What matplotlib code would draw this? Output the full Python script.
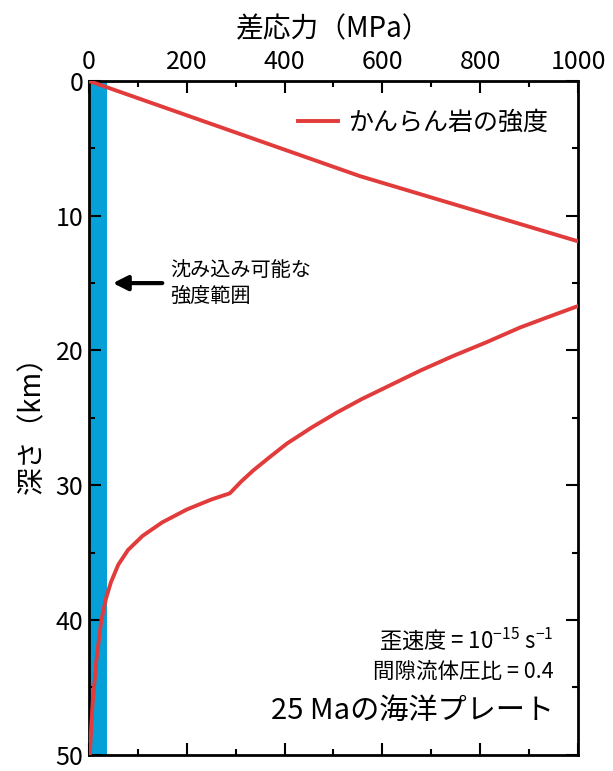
import matplotlib
matplotlib.use("Agg")
import matplotlib.pyplot as plt
from matplotlib.ticker import MultipleLocator

plt.rcParams['font.family'] = ['Noto Sans CJK JP', 'DejaVu Sans']
plt.rcParams['mathtext.fontset'] = 'custom'
plt.rcParams['mathtext.rm'] = 'Noto Sans CJK JP'
plt.rcParams['mathtext.it'] = 'Noto Sans CJK JP'

# 脆性領域（差応力 MPa, 深さ km）
brittle_stress = [0, 554, 1000]
brittle_depth = [0, 7.06, 11.9]

# 延性領域
ductile_stress = [1000, 940, 881, 812, 745, 677, 609, 558, 507, 456, 405, 370, 336, 312, 288,
                  250, 200, 150, 110, 80, 60, 45, 35, 25, 15, 12, 8, 5, 2]
ductile_depth = [16.7, 17.5, 18.3, 19.4, 20.4, 21.5, 22.7, 23.6, 24.6, 25.7, 26.9, 27.9, 28.9, 29.7, 30.6,
                 31.06, 31.8, 32.75, 33.75, 34.8, 35.9, 37.2, 38.4, 40.1, 43.1, 44.4, 46.0, 47.8, 50]

band_max = 38  # 沈み込み可能な強度範囲 (MPa)
arrow_depth = 15

red = '#E23B3B'
blue = '#06A0D8'

fig = plt.figure(figsize=(6.13, 7.71), dpi=100)
ax = fig.add_axes([0.145, 0.021, 0.798, 0.874])

ax.axvspan(0, band_max, color=blue, lw=0, zorder=1)
ax.plot(brittle_stress, brittle_depth, color=red, lw=2.8, label='かんらん岩の強度', zorder=3,
        solid_joinstyle='round')
ax.plot(ductile_stress, ductile_depth, color=red, lw=2.8, zorder=3, solid_joinstyle='round')

ax.annotate('', xy=(49, arrow_depth), xytext=(150, arrow_depth),
            arrowprops=dict(arrowstyle='-|>', lw=3, color='black', mutation_scale=22,
                            shrinkA=0, shrinkB=0))
ax.text(166, arrow_depth, '沈み込み可能な\n強度範囲', fontsize=14.5, va='center', ha='left',
        linespacing=1.3)

ax.text(0.95, 0.172, '歪速度 = 10$^{-15}$ s$^{-1}$', transform=ax.transAxes,
        fontsize=16, ha='right', va='center')
ax.text(0.95, 0.123, '間隙流体圧比 = 0.4', transform=ax.transAxes,
        fontsize=15.5, ha='right', va='center')
ax.text(0.95, 0.065, '25 Maの海洋プレート', transform=ax.transAxes,
        fontsize=21, ha='right', va='center')

ax.set_xlim(0, 1000)
ax.set_ylim(50, 0)
ax.xaxis.set_major_locator(MultipleLocator(200))
ax.xaxis.set_minor_locator(MultipleLocator(100))
ax.yaxis.set_major_locator(MultipleLocator(10))
ax.yaxis.set_minor_locator(MultipleLocator(5))

ax.xaxis.set_label_position('top')
ax.set_xlabel('差応力（MPa）', fontsize=20, labelpad=9)
ax.set_ylabel('深さ（km）', fontsize=20, labelpad=6)

ax.tick_params(which='both', direction='in', top=True, bottom=True, left=True, right=True,
               labeltop=True, labelbottom=False, labelsize=18, width=1.5)
ax.tick_params(which='major', length=8.5, pad=4)
ax.tick_params(which='minor', length=4)
for s in ax.spines.values():
    s.set_linewidth(2)

leg = ax.legend(loc='upper right', bbox_to_anchor=(0.985, 0.99), frameon=False,
                fontsize=18, handlelength=1.6, handletextpad=0.4)

fig.savefig('out.png', dpi=100)
